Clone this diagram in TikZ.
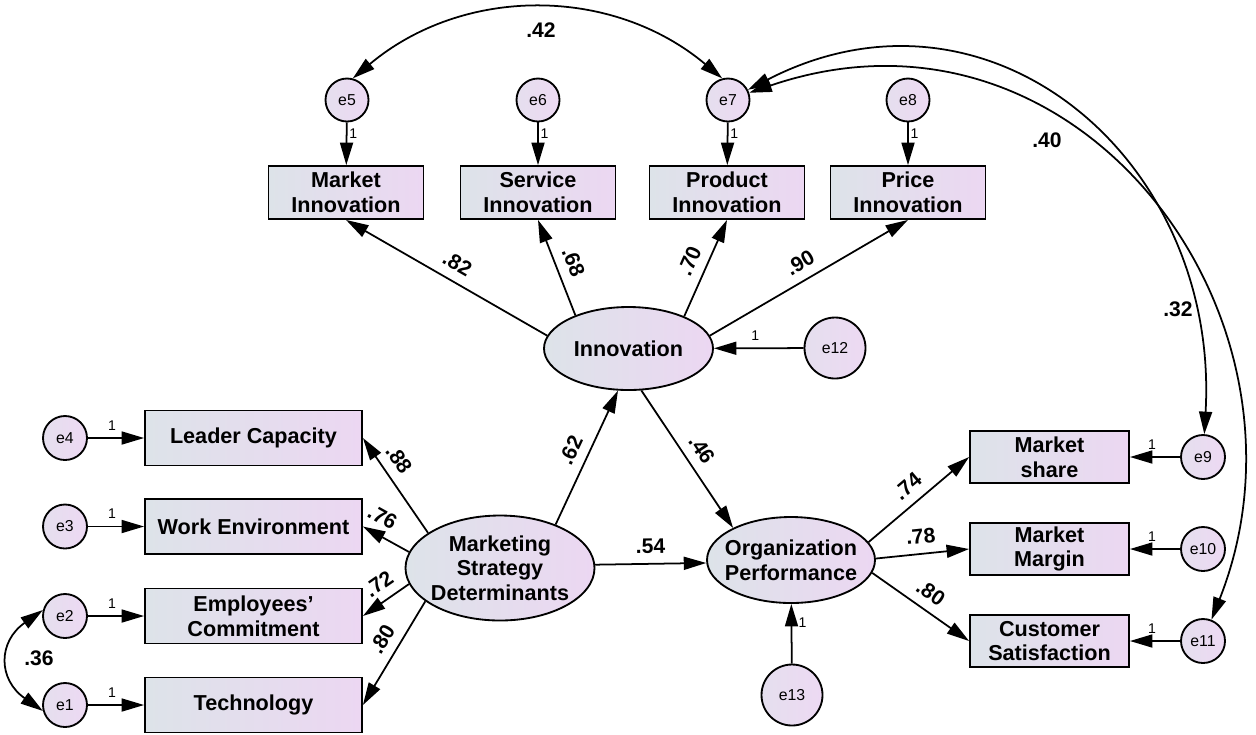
\documentclass[tikz,border=0pt]{standalone}
\usepackage{fontspec}
\setmainfont{Liberation Sans}
\usetikzlibrary{arrows.meta,shapes.geometric}
\definecolor{shadeL}{RGB}{221,227,233}
\definecolor{shadeR}{RGB}{236,215,242}
\definecolor{errL}{RGB}{229,223,238}
\definecolor{errR}{RGB}{237,217,243}

\begin{document}
\begin{tikzpicture}[>={Triangle[length=.45cm,width=.26cm]},
  obs/.style={draw,line width=1.05pt,left color=shadeL,right color=shadeR,minimum height=1.06cm,align=center,inner sep=1pt,font=\bfseries\fontsize{12.3}{14}\selectfont},
  lat/.style={ellipse,draw,line width=1.05pt,left color=shadeL,right color=shadeR,align=center,inner xsep=-.2cm,inner ysep=0pt,font=\bfseries\fontsize{12.3}{14}\selectfont},
  err/.style={circle,draw,line width=1.05pt,left color=errL,right color=errR,inner sep=0pt,font=\fontsize{9}{10}\selectfont},
  link/.style={->,line width=1pt},
  corr/.style={<->,line width=1pt},
  val/.style={font=\bfseries\fontsize{12}{13}\selectfont,inner sep=1.5pt},
  coef/.style={val,sloped,above=3.8pt},
  one/.style={font=\fontsize{8}{9}\selectfont,inner sep=1pt}]
\path[use as bounding box,fill=white] (0,0) rectangle (25.12,-14.68);

% latent variables
\node[lat,minimum width=3.38cm,minimum height=1.66cm] (innov) at (12.57,-6.97) {Innovation};
\node[lat,minimum width=3.78cm,minimum height=2.1cm] (msd) at (10,-11.36) {Marketing\\Strategy\\Determinants};
\node[lat,minimum width=3.36cm,minimum height=1.72cm] (orgp) at (15.82,-11.2) {Organization\\Performance};

% indicators
\node[obs,minimum width=3.1cm] (mkt) at (6.92,-3.85) {Market\\Innovation};
\node[obs,minimum width=3.1cm] (srv) at (10.76,-3.85) {Service\\Innovation};
\node[obs,minimum width=3.1cm] (prd) at (14.54,-3.85) {Product\\Innovation};
\node[obs,minimum width=3.1cm] (prc) at (18.16,-3.85) {Price\\Innovation};
\node[obs,minimum width=4.34cm,minimum height=1.1cm] (lead) at (5.07,-8.76) {Leader Capacity};
\node[obs,minimum width=4.34cm,minimum height=1.1cm] (work) at (5.07,-10.53) {Work Environment};
\node[obs,minimum width=4.34cm,minimum height=1.1cm] (empl) at (5.07,-12.32) {Employees’\\Commitment};
\node[obs,minimum width=4.34cm,minimum height=1.1cm] (tech) at (5.07,-14.1) {Technology};
\node[obs,minimum width=3.18cm,minimum height=1.04cm] (share) at (20.99,-9.14) {Market\\share};
\node[obs,minimum width=3.18cm,minimum height=1.04cm] (margin) at (20.99,-10.98) {Market\\Margin};
\node[obs,minimum width=3.18cm,minimum height=1.04cm] (satis) at (20.99,-12.82) {Customer\\Satisfaction};

% error terms
\foreach \i/\x/\b in {5/6.94/mkt,6/10.76/srv,7/14.56/prd,8/18.16/prc}{
  \node[err,minimum size=.86cm] (e\i) at (\x,-2) {e\i};
  \draw[link] (e\i) -- node[one,pos=.27,right]{1} (\b);
}
\foreach \i/\y/\b in {4/-8.76/lead,3/-10.53/work,2/-12.32/empl,1/-14.1/tech}{
  \node[err,minimum size=.88cm] (e\i) at (1.3,\y) {e\i};
  \draw[link] (e\i) -- node[one,pos=.43,above=3pt]{1} (\b);
}
\foreach \i/\y/\b in {9/-9.14/share,10/-10.98/margin,11/-12.82/satis}{
  \node[err,minimum size=.88cm] (e\i) at (24.06,\y) {e\i};
  \draw[link] (e\i) -- node[one,pos=.56,above=3pt]{1} (\b);
}
\node[err,minimum size=1.22cm] (e12) at (16.7,-6.96) {e12};
\node[err,minimum size=1.22cm] (e13) at (15.84,-13.9) {e13};
\draw[link] (e12) -- node[one,pos=.54,above=3pt]{1} (innov);
\draw[link] (e13) -- node[one,pos=.69,right=2.5pt]{1} (orgp);

% paths
\draw[link] (innov.171) -- node[coef,pos=.49]{.82} (mkt.south);
\draw[link] (innov.148) -- node[coef,pos=.49]{.68} (srv.south);
\draw[link] (innov.30) -- node[coef,pos=.5]{.70} (prd.south);
\draw[link] (innov.9) -- node[coef,pos=.5]{.90} (prc.south);
\draw[link] (msd.38) -- node[coef,pos=.5]{.62} (innov.256);
\draw[link] (innov.287) -- node[coef,pos=.5]{.46} (orgp.151);
\draw[link] (msd.2) -- node[coef,pos=.5]{.54} (orgp.182);
\draw[link] (msd.154) -- node[coef,pos=.67]{.88} (lead.east);
\draw[link] (msd.170) -- node[coef,pos=.76]{.76} (work.east);
\draw[link] (msd.190) -- node[coef,pos=.44]{.72} (empl.east);
\draw[link] (msd.204) -- node[coef,pos=.45]{.80} (tech.east);
\draw[link] (orgp.13) -- node[coef,pos=.5]{.74} (share.west);
\draw[link] (orgp.1) -- node[coef,pos=.5]{.78} (margin.west);
\draw[link] (orgp.351) -- node[coef,pos=.5]{.80} (satis.west);

% covariances
\draw[corr] (e5.75) to[out=40,in=140] (e7.105);
\draw[corr] (e7) .. controls (19.8,.7) and (24.4,-3.2) .. (e9);
\draw[corr] (e7) .. controls (21.6,.4) and (26.6,-6.4) .. (e11);
\draw[corr] (e2.165) to[out=215,in=145,looseness=1.4] (e1.195);
\node[val] (r57) at (10.82,-.6) {.42};
\node[val] (r711) at (20.94,-2.8) {.40};
\node[val] (r79) at (23.56,-6.18) {.32};
\node[val] (r12) at (.78,-13.16) {.36};
\end{tikzpicture}
\end{document}
